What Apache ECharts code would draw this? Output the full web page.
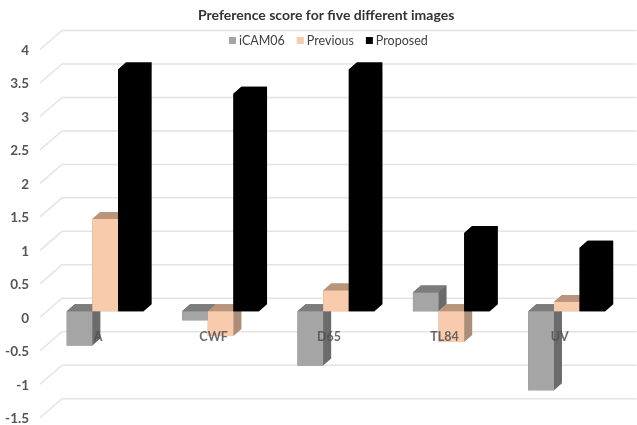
<!DOCTYPE html>
<html>
<head>
<meta charset="utf-8">
<style>
  html, body { margin: 0; padding: 0; background: #fff; }
  #chart { width: 637px; height: 425px; }
</style>
<script src="https://cdn.jsdelivr.net/npm/echarts@6/dist/echarts.min.js"></script>
</head>
<body>
<div id="chart"></div>
<script>
const categories = ['A', 'CWF', 'D65', 'TL84', 'UV'];
const iCAM06 = [-0.51, -0.135, -0.81, 0.28, -1.18];
const previous = [1.38, -0.37, 0.31, -0.46, 0.14];
const proposed = [3.61, 3.25, 3.61, 1.17, 0.95];
const yTicks = [-1.5, -1, -0.5, 0, 0.5, 1, 1.5, 2, 2.5, 3, 3.5, 4];

const FONT = 'Lato';
const DEPTH_X = 8;
const DEPTH_Y = 7;
const SERIES_COUNT = 3;
const GAP_RATIO = 1.5;

const chart = echarts.init(document.getElementById('chart'));

// Pseudo-3D column: silhouette underlay, then front, top and side faces.
function columnRenderer(seriesIndex, faces) {
  return function (params, api) {
    const cat = api.value(0);
    const val = api.value(1);
    const base = api.coord([cat, 0]);
    const tip = api.coord([cat, val]);
    const w = api.size([1, 0])[0] / (SERIES_COUNT + GAP_RATIO);
    const x0 = base[0] - (SERIES_COUNT * w) / 2 + seriesIndex * w;
    const x1 = x0 + w;
    const yTop = Math.min(base[1], tip[1]);
    const yBot = Math.max(base[1], tip[1]);
    return {
      type: 'group',
      children: [
        {
          type: 'polygon',
          shape: { points: [[x0, yTop], [x0 + DEPTH_X, yTop - DEPTH_Y], [x1 + DEPTH_X, yTop - DEPTH_Y], [x1 + DEPTH_X, yBot - DEPTH_Y], [x1, yBot], [x0, yBot]] },
          style: { fill: faces.side }
        },
        {
          type: 'polygon',
          shape: { points: [[x0, yTop], [x0 + DEPTH_X, yTop - DEPTH_Y], [x1 + DEPTH_X, yTop - DEPTH_Y], [x1, yTop]] },
          style: { fill: faces.top }
        },
        {
          type: 'rect',
          shape: { x: x0, y: yTop, width: w, height: yBot - yTop },
          style: { fill: faces.front }
        }
      ]
    };
  };
}

// Back wall gridline with its receding segment toward the value labels.
function wallRenderer(params, api) {
  const p = api.coord([0, api.value(1)]);
  const band = api.size([1, 0])[0];
  const left = p[0] - band / 2;
  const right = left + band * categories.length + 12;
  return {
    type: 'polyline',
    shape: { points: [[left - 7.5, p[1] + 6], [left + 14.5, p[1] - 13], [right, p[1] - 13]] },
    style: { fill: 'none', stroke: '#e4e4e4', lineWidth: 1.5 }
  };
}

function columnSeries(name, values, index, faces) {
  return {
    name: name,
    type: 'custom',
    z: 3,
    clip: false,
    itemStyle: { color: faces.front },
    renderItem: columnRenderer(index, faces),
    encode: { x: 0, y: 1 },
    data: values.map((v, i) => [i, v])
  };
}

chart.setOption({
  animation: false,
  backgroundColor: '#ffffff',
  title: {
    text: 'Preference score for five different images',
    left: 198,
    top: 8,
    padding: 0,
    textStyle: { fontFamily: FONT, fontSize: 14, fontWeight: 'bold', color: '#333333' }
  },
  legend: {
    data: ['iCAM06', 'Previous', 'Proposed'],
    left: 229,
    top: 34,
    padding: 0,
    icon: 'rect',
    itemWidth: 7,
    itemHeight: 7,
    itemGap: 12,
    textStyle: { fontFamily: FONT, fontSize: 12.5, color: '#404040', padding: [0, 0, 0, -2] }
  },
  grid: { left: 47.5, width: 577, top: 43.5, height: 368.2, outerBoundsMode: 'none' },
  xAxis: {
    type: 'category',
    data: categories,
    position: 'bottom',
    offset: -100.4,
    z: 6,
    axisLine: { show: false, onZero: false },
    axisTick: { show: false },
    splitLine: { show: false },
    axisLabel: {
      margin: 19,
      padding: [0, 14, 0, 0],
      fontFamily: FONT,
      fontSize: 12.5,
      fontWeight: 'bold',
      color: 'rgba(80,80,80,0.85)'
    }
  },
  yAxis: {
    type: 'value',
    min: -1.5,
    max: 4,
    interval: 0.5,
    axisLine: { show: false },
    axisTick: { show: false },
    splitLine: { show: false },
    axisLabel: {
      margin: 18.5,
      verticalAlign: 'top',
      fontFamily: FONT,
      fontSize: 13.5,
      fontWeight: 'bold',
      color: '#555555'
    }
  },
  series: [
    {
      name: 'wall',
      type: 'custom',
      z: 1,
      clip: false,
      silent: true,
      renderItem: wallRenderer,
      encode: { x: 0, y: 1 },
      data: yTicks.map(t => [0, t])
    },
    columnSeries('iCAM06', iCAM06, 0, { front: '#a5a5a5', top: '#7c7c7c', side: '#6b6b6b' }),
    columnSeries('Previous', previous, 1, { front: '#f8cbad', top: '#b9957c', side: '#ab8d78' }),
    columnSeries('Proposed', proposed, 2, { front: '#000000', top: '#000000', side: '#000000' })
  ]
});
</script>
</body>
</html>
